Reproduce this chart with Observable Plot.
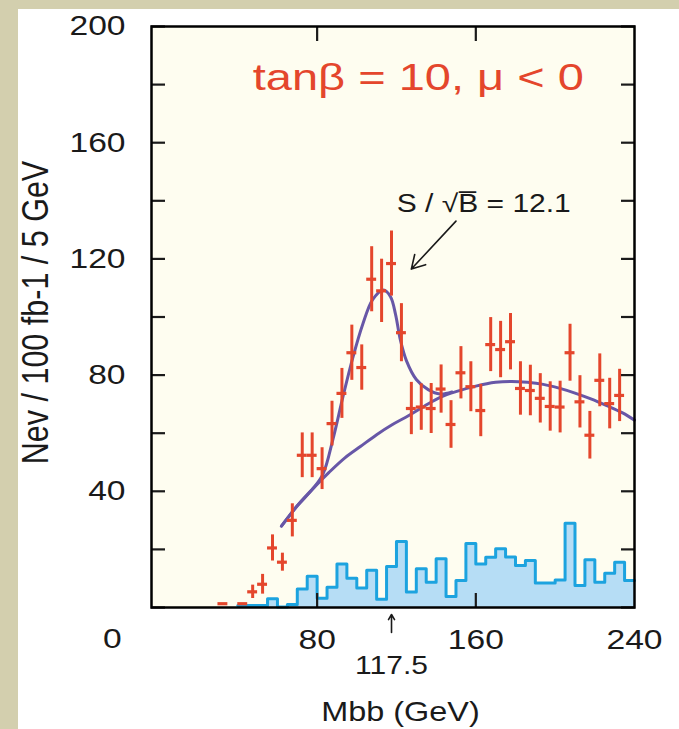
<!DOCTYPE html>
<html><head><meta charset="utf-8">
<script src="https://cdn.jsdelivr.net/npm/d3@7"></script>
<script src="https://cdn.jsdelivr.net/npm/@observablehq/plot@0.6"></script>
<style>
html,body{margin:0;padding:0;width:679px;height:729px;overflow:hidden;background:#d3cfae;}
#panel{position:absolute;left:18px;top:9px;width:661px;height:720px;background:#ffffff;}
#panel svg{display:block;overflow:visible;}
</style></head><body><div id="panel"></div>
<script>
// ---- data ----
const massCenters = [32.5, 42.5, 47.5, 52.5, 57.5, 62.5, 67.5, 72.5, 77.5, 82.5, 87.5, 92.5, 97.5, 102.5, 107.5, 112.5, 117.5, 122.5, 127.5, 132.5, 137.5, 142.5, 147.5, 152.5, 157.5, 162.5, 167.5, 172.5, 177.5, 182.5, 187.5, 192.5, 197.5, 202.5, 207.5, 212.5, 217.5, 222.5, 227.5, 232.5];
const counts = [1.3, 1.3, 5.4, 8, 20.5, 15.6, 30, 52.4, 52.4, 47.8, 63.3, 73.7, 87.7, 82.6, 113, 109, 118.4, 94.6, 68.5, 69, 68.5, 75.2, 63, 80.8, 76, 67.8, 90.5, 88.8, 91.5, 75.4, 74.7, 72, 69.2, 69, 87.7, 70.8, 59.3, 78.2, 70.2, 73];
const errors = [0, 0, 2.3, 3.4, 4.5, 3.1, 5.7, 7.7, 7.7, 7.2, 7.7, 8.6, 9.5, 7.8, 11.2, 10.9, 11.2, 10, 9, 8, 8.6, 8.3, 8.2, 9, 8.6, 9, 9.3, 9.7, 9.7, 9.2, 8.7, 8.5, 8.5, 8.9, 9.8, 9, 8.2, 9.1, 8.7, 9];
const binWidth = 5;
const histEdges = [40, 45, 50, 55, 60, 65, 70, 75, 80, 85, 90, 95, 100, 105, 110, 115, 120, 125, 130, 135, 140, 145, 150, 155, 160, 165, 170, 175, 180, 185, 190, 195, 200, 205, 210, 215, 220, 225, 230, 235];
const histValues = [0.7, 0.7, 0.7, 3, 0.2, 1, 6.4, 10.8, 3.2, 7, 15, 10.1, 6.7, 12.8, 2.8, 14.1, 22.7, 5.3, 13.3, 8.7, 16.8, 3.8, 9.3, 22, 15, 17.3, 20.2, 17.4, 14.5, 16.2, 8.4, 8.4, 9.5, 29, 7.6, 16.4, 8.7, 11.8, 15.6, 9.3];
const histEnd = 240;
const bgX = [62, 70, 78, 86, 94, 102, 110, 118, 126, 134, 142, 150, 160, 170, 178, 186, 194, 202, 210, 218, 226, 234, 240];
const bgY = [28, 35, 41, 46.5, 51.5, 55.5, 59.5, 63, 66, 69.3, 72.3, 74.3, 76.2, 77.5, 77.8, 77.5, 76.8, 75.5, 73.8, 71.8, 69.5, 67, 64.5];
const sbX = [62, 70, 78, 83, 88, 93, 98, 103, 108, 113.5, 117, 119.5, 122, 125, 130, 136, 142, 148];
const sbY = [28, 35, 41, 46, 58, 72.5, 86, 97.5, 106, 109.3, 107, 101, 92, 85, 78.5, 75, 73.5, 74.2];
const yTicks = [0, 20, 40, 60, 80, 100, 120, 140, 160, 180, 200];
const yTickLabels = [40, 80, 120, 160, 200];
const xTicks = [80, 160];
const xTickLabels = [80, 160, 240];
const originLabel = ["0"];
const titleText = ["tanβ = 10, μ < 0"];
const titlePos = [131, 178];
const ratioText = ["S / √B̅ = 12.1"];
const ratioPos = [164, 136];
const ratioArrow = [150, 133, 127.5, 116.5];
const markerMass = [117.5];
const markerArrow = [-8.6, -2.4];
const markerLabelY = -20;
const xLabel = ["Mbb (GeV)"];
const yLabel = ["Nev / 100 fb-1 / 5 GeV"];

// ---- tables built from the arrays ----
const points = massCenters.map((m, i) => ({m, n: counts[i], e: errors[i]}));
const hist = histEdges.map((x, i) => ({x, v: histValues[i]}));
hist.push({x: histEnd, v: histValues[histValues.length - 1]});
const bg = bgX.map((x, i) => ({x, y: bgY[i]}));
const sb = sbX.map((x, i) => ({x, y: sbY[i]}));

const red = "#e4462c", blue = "#1ca3df", blueFill = "#b6ddf5", purple = "#6757a7", ink = "#1a1a1a";
const tickStyle = {tickFormat: () => "", label: null, strokeWidth: 2.2};

const chart = Plot.plot({
  width: 661, height: 720,
  marginLeft: 133, marginRight: 45, marginTop: 17, marginBottom: 122,
  x: {domain: [-3.5, 240], axis: null},
  y: {domain: [0, 200], axis: null},
  style: {fontFamily: "'Liberation Sans', Arial, sans-serif", background: "transparent", color: ink},
  marks: [
    Plot.frame({fill: "#fefdf0", stroke: null}),
    Plot.areaY(hist, {x: "x", y: "v", curve: "step-after", fill: blueFill}),
    Plot.line(hist, {x: "x", y: "v", curve: "step-after", stroke: blue, strokeWidth: 3}),
    Plot.line(bg, {x: "x", y: "y", curve: "catmull-rom", stroke: purple, strokeWidth: 3}),
    Plot.line(sb, {x: "x", y: "y", curve: "catmull-rom", stroke: purple, strokeWidth: 3}),
    Plot.ruleX(points.filter(d => d.e > 0), {x: "m", y1: d => d.n - d.e, y2: d => d.n + d.e, stroke: red, strokeWidth: 3}),
    Plot.ruleY(points, {y: "n", x1: d => d.m - binWidth / 2, x2: d => d.m + binWidth / 2, stroke: red, strokeWidth: 3.2}),
    Plot.axisY({anchor: "left", ticks: yTicks, tickSize: -14, ...tickStyle}),
    Plot.axisY({anchor: "right", ticks: yTicks, tickSize: -14, ...tickStyle}),
    Plot.axisX({anchor: "bottom", ticks: xTicks, tickSize: -14, ...tickStyle}),
    Plot.axisX({anchor: "top", ticks: xTicks, tickSize: -14, ...tickStyle}),
    Plot.frame({stroke: "#000", strokeWidth: 2.5}),
    Plot.text(yTickLabels, {y: d => d, text: d => String(d), frameAnchor: "left", textAnchor: "end", lineAnchor: "middle", dx: -26, fontSize: 28, fill: ink}),
    Plot.text(xTickLabels, {x: d => d, text: d => String(d), frameAnchor: "bottom", textAnchor: "middle", lineAnchor: "middle", dy: 33, fontSize: 28, fill: ink}),
    Plot.text(originLabel, {x: () => 0, y: () => 0, text: d => d, lineAnchor: "middle", dx: -46, dy: 32, fontSize: 28, fill: ink}),
    Plot.text(titleText, {x: () => titlePos[0], y: () => titlePos[1], text: d => d, lineAnchor: "bottom", fontSize: 37, fill: red, className: "wide"}),
    Plot.text(ratioText, {x: () => ratioPos[0], y: () => ratioPos[1], text: d => d, lineAnchor: "bottom", fontSize: 25, fill: ink}),
    Plot.arrow([ratioArrow], {x1: d => d[0], y1: d => d[1], x2: d => d[2], y2: d => d[3], stroke: ink, strokeWidth: 1.6, headLength: 14}),
    Plot.arrow(markerMass, {x: d => d, y1: () => markerArrow[0], y2: () => markerArrow[1], stroke: ink, strokeWidth: 1.6, headLength: 8}),
    Plot.text(markerMass, {x: d => d, y: () => markerLabelY, text: d => String(d), lineAnchor: "middle", fontSize: 25, fill: ink}),
    Plot.text(xLabel, {frameAnchor: "bottom", text: d => d, textAnchor: "middle", lineAnchor: "middle", dx: 7.5, dy: 105, fontSize: 27, fill: ink}),
    Plot.text(yLabel, {frameAnchor: "left", text: d => d, rotate: -90, textAnchor: "middle", lineAnchor: "middle", dx: -115, dy: -4.5, fontSize: 30.5, fill: ink})
  ]
});

// horizontal stretch of the lettering, as in the reference
d3.select(chart).selectAll("text").each(function () {
  const t = this.getAttribute("transform") || "";
  if (!t) return;
  const wide = this.closest("g.wide") !== null;
  this.setAttribute("transform", t + (/rotate/.test(t) ? " scale(1,1.22)" : wide ? " scale(1.27,1)" : " scale(1.2,1)"));
});
document.getElementById("panel").append(chart);
</script></body></html>
